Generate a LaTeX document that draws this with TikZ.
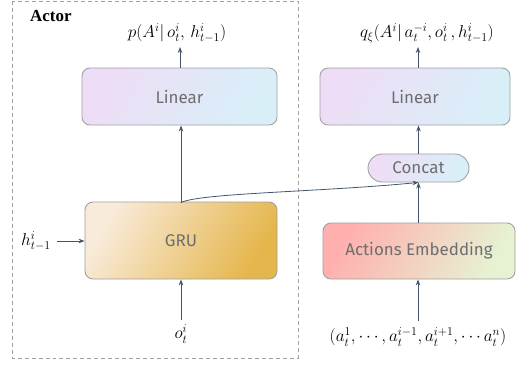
\documentclass[tikz,border=0pt]{standalone}
\usepackage{fontspec}
\setmainfont{Liberation Serif}
\newfontfamily\boxfont{Fira Sans}
\usetikzlibrary{arrows.meta}
\definecolor{edgegray}{HTML}{A0A0A0}
\definecolor{txtgray}{HTML}{6E6E6E}
\definecolor{arr}{HTML}{44546A}
\tikzset{
  blk/.style={draw=edgegray, line width=0.9pt, rounded corners=8pt, font=\boxfont\fontsize{17}{19}\selectfont, text=txtgray, inner sep=0pt},
  linfill/.style={top color=cLinA, bottom color=cLinB, shading angle=60},
  lbl/.style={inner sep=1pt, font=\fontsize{18.5}{21}\selectfont},
  conn/.style={draw=arr, line width=0.8pt, -{Stealth[length=6pt,width=4.5pt]}},
}
\definecolor{cLinA}{HTML}{EEDDF6}
\definecolor{cLinB}{HTML}{D8EFF8}
\definecolor{cGruA}{HTML}{F9EBDA}
\definecolor{cGruB}{HTML}{E5B64C}
\definecolor{cEmbA}{HTML}{FFB0AE}
\definecolor{cEmbB}{HTML}{E6F2D2}
\begin{document}
\begin{tikzpicture}[x=1bp,y=-1bp]
\useasboundingbox (0,0) rectangle (523,367);
\draw[edgegray, line width=0.8pt, dash pattern=on 4pt off 3pt] (12,1) rectangle (298,358);
\node[font=\bfseries\fontsize{17}{19}\selectfont, anchor=west, inner sep=0pt] (actor) at (30,16) {Actor};
% left column
\node[blk, linfill, minimum width=195bp, minimum height=57bp] (linL) at (179.5,96.5) {Linear};
\node[blk, top color=cGruA, bottom color=cGruB, shading angle=60, minimum width=192bp, minimum height=77bp] (gru) at (181,240.5) {GRU};
\node[lbl] (pL) at (177,33) {$p(A^i|\, o_t^i,\, h_{t-1}^i)$};
\node[lbl] (hL) at (36,241) {$h_{t-1}^i$};
\node[lbl] (oL) at (181,334) {$o_t^i$};
% right column
\node[blk, linfill, minimum width=190bp, minimum height=57bp] (linR) at (415,96.5) {Linear};
\node[blk, linfill, rounded corners=14bp, minimum width=101bp, minimum height=28bp] (cat) at (418.5,168) {Concat};
\node[blk, top color=cEmbA, bottom color=cEmbB, shading angle=60, minimum width=192bp, minimum height=56bp] (emb) at (419,251) {Actions Embedding};
\node[lbl] (qR) at (427,33) {$q_\xi(A^i|\, a_t^{-i}, o_t^i\,, h_{t-1}^i)$};
\node[lbl] (tup) at (418,337) {$(a_t^1,\cdots,a_t^{i-1},a_t^{i+1},\cdots a_t^n)$};
% connectors
\coordinate (pLb) at (180,47);
\coordinate (qRb) at (418,47);
\coordinate (oLt) at (181,320);
\coordinate (tupt) at (418,321);
\coordinate (hLe) at (57,241);
\draw[conn] (linL.north -| pLb) -- (pLb);
\draw[conn] (linR.north -| qRb) -- (qRb);
\draw[conn] (gru.north) -- (linL.south -| gru.north);
\draw[conn] (hLe) -- (gru.west |- hLe);
\draw[conn] (oLt) -- (gru.south);
\draw[conn] (tupt) -- (emb.south -| tupt);
\draw[conn] (emb.north -| cat.south) -- (cat.south);
\draw[conn] (cat.north) -- (linR.south -| cat.north);
\draw[conn] ([yshift=-1bp]gru.north) .. controls (200,193) and (320,192) .. (cat.south);
\end{tikzpicture}
\end{document}
